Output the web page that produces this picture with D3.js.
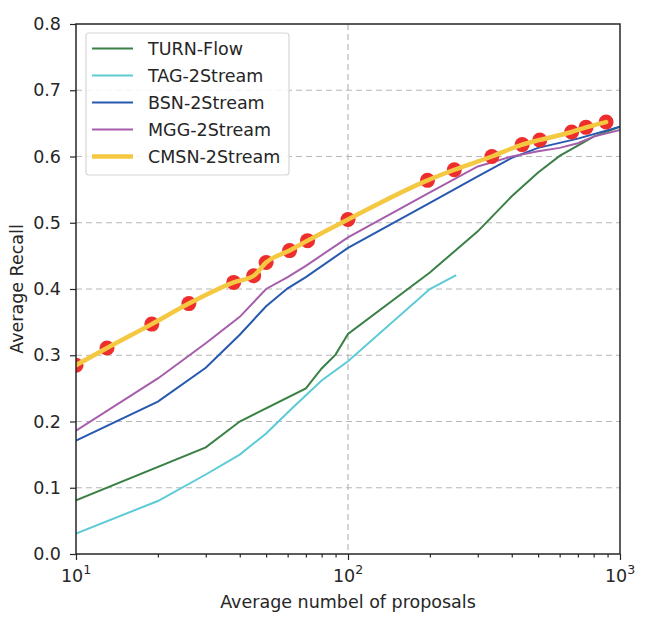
<!DOCTYPE html>
<html><head><meta charset="utf-8">
<script src="https://cdn.jsdelivr.net/npm/d3@7"></script>
<style>body{margin:0;background:#fff}svg{display:block;font-family:"DejaVu Sans",sans-serif}</style>
</head><body><svg id="c" width="664" height="620"></svg>
<script>
const seriesNames = ["TURN-Flow","TAG-2Stream","BSN-2Stream","MGG-2Stream","CMSN-2Stream"];
const seriesColors = ["#3a8046","#5ccbd6","#2759b0","#a65eab","#f5c842"];
const turnX = [10,30,40,70,80,90,100,200,300,400,500,600,800,1000];
const turnY = [0.081,0.161,0.200,0.250,0.280,0.301,0.332,0.425,0.487,0.540,0.576,0.601,0.630,0.645];
const tagX = [10,20,30,40,50,63,80,100,200,250];
const tagY = [0.031,0.080,0.120,0.150,0.182,0.222,0.262,0.291,0.400,0.421];
const bsnX = [10,20,30,40,50,60,70,100,200,300,400,500,700,1000];
const bsnY = [0.171,0.230,0.281,0.331,0.374,0.401,0.418,0.462,0.530,0.570,0.598,0.613,0.627,0.645];
const mggX = [10,20,30,40,50,60,70,100,200,300,400,500,600,700,800,1000];
const mggY = [0.186,0.265,0.318,0.358,0.400,0.418,0.435,0.478,0.546,0.585,0.600,0.608,0.613,0.620,0.630,0.640];
const cmsnX = [10,13,19,26,38,45,50,61,71,100,196,246,338,437,507,664,750,889];
const cmsnY = [0.285,0.311,0.347,0.378,0.410,0.420,0.440,0.458,0.473,0.505,0.564,0.580,0.600,0.618,0.625,0.637,0.644,0.652];
const yTicks = [0,0.1,0.2,0.3,0.4,0.5,0.6,0.7,0.8];
const xTicks = [10,100,1000];
const xTickExp = ["1","2","3"];

const svg = d3.select("#c");
const L=76,R=620,T=24,B=554;
const FS=17.5;
const x = d3.scaleLog().domain([10,1000]).range([L,R]);
const y = d3.scaleLinear().domain([0,0.8]).range([B,T]);

// grid
const g = svg.append("g");
g.selectAll("line.hg").data(yTicks.slice(1,-1)).join("line")
 .attr("x1",L).attr("x2",R).attr("y1",d=>y(d)).attr("y2",d=>y(d))
 .attr("stroke","#b8b8b8").attr("stroke-width",1.2).attr("stroke-dasharray","6,4");
g.selectAll("line.vg").data([100]).join("line")
 .attr("y1",T).attr("y2",B).attr("x1",d=>x(d)).attr("x2",d=>x(d))
 .attr("stroke","#b8b8b8").attr("stroke-width",1.2).attr("stroke-dasharray","6,4");

const line = d3.line().x(d=>x(d[0])).y(d=>y(d[1]));
const zip=(a,b)=>a.map((v,i)=>[v,b[i]]);
const data=[zip(turnX,turnY),zip(tagX,tagY),zip(bsnX,bsnY),zip(mggX,mggY)];
svg.append("clipPath").attr("id","cp").append("rect").attr("x",L).attr("y",T).attr("width",R-L).attr("height",B-T);
const plot = svg.append("g").attr("clip-path","url(#cp)");
data.forEach((d,i)=>{
  plot.append("path").datum(d).attr("d",line).attr("fill","none")
   .attr("stroke",seriesColors[i]).attr("stroke-width",2);
});
const cm = zip(cmsnX,cmsnY);
plot.selectAll("circle").data(cm).join("circle")
 .attr("cx",d=>x(d[0])).attr("cy",d=>y(d[1])).attr("r",7.5).attr("fill","#ee2d2d");
plot.append("path").datum(cm).attr("d",d3.line().x(d=>x(d[0])).y(d=>y(d[1])).curve(d3.curveMonotoneX))
 .attr("fill","none").attr("stroke",seriesColors[4]).attr("stroke-width",4.5).attr("stroke-linecap","round");

// axes
const ya = svg.append("g").attr("transform",`translate(${L},0)`)
 .call(d3.axisLeft(y).tickValues(yTicks).tickFormat(d3.format(".1f")).tickSize(6).tickPadding(9));
svg.append("g").attr("transform",`translate(0,${B})`)
 .call(d3.axisBottom(x).tickValues(xTicks).tickFormat("").tickSize(6));
const minor=[];[10,100].forEach(b=>{for(let k=2;k<10;k++)minor.push(b*k);});
svg.append("g").attr("transform",`translate(0,${B})`)
 .call(d3.axisBottom(x).tickValues(minor).tickFormat("").tickSize(3.5));
svg.selectAll(".domain").remove();
svg.selectAll(".tick line").attr("stroke","#262626").attr("stroke-width",1.2);
ya.selectAll("text").attr("font-size",FS).attr("fill","#262626").attr("font-family","DejaVu Sans");
const xl = svg.append("g");
xTicks.forEach((v,i)=>{
  const t = xl.append("text").attr("x",x(v)).attr("y",B+28).attr("text-anchor","middle")
   .attr("font-size",FS).attr("fill","#262626");
  t.append("tspan").text("10");
  t.append("tspan").attr("dy",-8).attr("font-size",12.5).text(xTickExp[i]);
});
svg.append("rect").attr("x",L).attr("y",T).attr("width",R-L).attr("height",B-T)
 .attr("fill","none").attr("stroke","#262626").attr("stroke-width",1.5);

svg.append("text").attr("x",(L+R)/2).attr("y",608).attr("text-anchor","middle")
 .attr("font-size",FS).attr("fill","#262626").text("Average numbel of proposals");
svg.append("text").attr("transform",`translate(23,${(T+B)/2}) rotate(-90)`).attr("text-anchor","middle")
 .attr("font-size",FS).attr("fill","#262626").text("Average Recall");

// legend
const lg = svg.append("g");
lg.append("rect").attr("x",86).attr("y",33).attr("width",203).attr("height",142).attr("rx",3)
 .attr("fill","#fff").attr("fill-opacity",0.85).attr("stroke","#d6d6d6").attr("stroke-width",1.2);
seriesNames.forEach((n,i)=>{
  const yy = 48.5 + i*27;
  lg.append("line").attr("x1",92).attr("x2",133).attr("y1",yy).attr("y2",yy)
   .attr("stroke",seriesColors[i]).attr("stroke-width",i===4?4.5:2);
  lg.append("text").attr("x",148).attr("y",yy+6).attr("font-size",FS).attr("fill","#262626").text(n);
});
</script></body></html>
